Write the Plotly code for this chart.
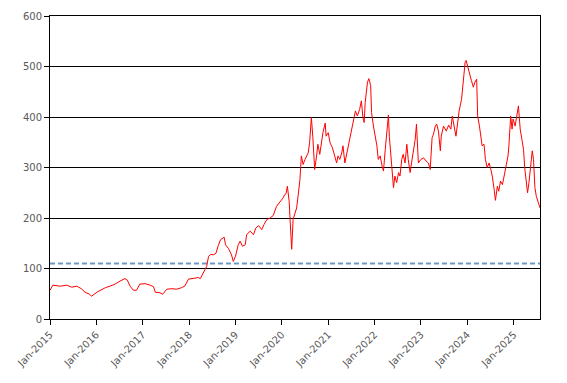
import plotly.graph_objects as go

dates = [
"2015-01-02","2015-01-23","2015-03-23","2015-05-12","2015-06-21","2015-07-31","2015-09-05","2015-10-04","2015-11-09","2015-11-24",
"2016-01-05","2016-01-30","2016-03-12","2016-04-17","2016-05-27","2016-07-05","2016-08-14","2016-09-01","2016-09-23","2016-10-19","2016-11-13","2016-12-08",
"2017-01-19","2017-02-28","2017-03-26","2017-04-10","2017-05-16","2017-06-06","2017-07-09","2017-08-18","2017-09-23","2017-11-02","2017-11-27","2017-12-27",
"2018-01-23","2018-03-15","2018-03-30","2018-04-24","2018-05-19","2018-06-03","2018-06-21","2018-07-09","2018-07-31","2018-08-18","2018-09-05","2018-10-04","2018-10-15","2018-11-06","2018-12-01","2018-12-15",
"2019-01-01","2019-01-23","2019-02-07","2019-02-25","2019-03-19","2019-03-30","2019-04-27","2019-05-23","2019-06-10","2019-07-02","2019-07-27","2019-08-14","2019-09-05","2019-10-01","2019-10-26","2019-11-20","2019-12-15",
"2020-01-12","2020-01-23","2020-02-03","2020-02-14","2020-02-28","2020-03-12","2020-03-19","2020-03-30","2020-04-13","2020-04-27","2020-05-08","2020-05-23","2020-06-03","2020-06-17","2020-07-02","2020-07-27","2020-08-07","2020-08-21","2020-09-01","2020-09-16","2020-10-01","2020-10-11","2020-10-26","2020-11-06","2020-11-20","2020-12-08","2020-12-15",
"2021-01-01","2021-01-15","2021-02-03","2021-02-18","2021-03-08","2021-03-19","2021-04-02","2021-04-17","2021-04-27","2021-05-12","2021-05-23","2021-06-06","2021-06-28","2021-07-16","2021-08-03","2021-08-18","2021-09-05","2021-09-19","2021-10-01","2021-10-11","2021-10-19","2021-11-06","2021-11-17","2021-12-01","2021-12-08","2021-12-23",
"2022-01-05","2022-01-19","2022-01-30","2022-02-14","2022-03-01","2022-03-12","2022-03-26","2022-04-10","2022-04-20","2022-04-27","2022-05-08","2022-05-23","2022-05-30","2022-06-10","2022-06-24","2022-07-09","2022-07-20","2022-08-03","2022-08-14","2022-08-29","2022-09-12","2022-09-23","2022-10-08","2022-10-19","2022-11-02","2022-11-17","2022-11-27","2022-12-12",
"2023-01-01","2023-01-23","2023-02-10","2023-03-01","2023-03-15","2023-03-30","2023-04-10","2023-04-24","2023-05-05","2023-05-19","2023-06-03","2023-06-10","2023-06-28","2023-07-20","2023-08-07","2023-08-25","2023-09-05","2023-09-19","2023-10-04","2023-10-19","2023-10-29","2023-11-17","2023-12-01","2023-12-15","2023-12-23",
"2024-01-08","2024-01-23","2024-02-03","2024-02-18","2024-03-01","2024-03-15","2024-03-23","2024-04-06","2024-04-17","2024-04-27","2024-05-12","2024-05-23","2024-06-06","2024-06-21","2024-07-05","2024-07-16","2024-07-31","2024-08-10","2024-08-25","2024-09-05","2024-09-19","2024-10-04","2024-10-22","2024-11-06","2024-11-17","2024-11-24","2024-12-08","2024-12-19","2024-12-27",
"2025-01-12","2025-01-23","2025-02-07","2025-02-21","2025-03-05","2025-03-19","2025-03-30","2025-04-13","2025-04-20","2025-05-01","2025-05-12","2025-05-27","2025-06-06","2025-06-17","2025-06-28","2025-07-13","2025-07-27",
]

values = [
57,67,65,67,63,65,60,53,49,45,
53,57,62,65,69,75,80,77,65,57,57,69,
70,67,64,53,52,49,59,60,59,62,65,79,
80,82,80,92,104,124,128,127,130,145,157,162,147,140,127,114,
124,147,154,144,147,167,174,167,180,185,177,187,197,200,205,223,230,
240,246,248,263,233,170,138,197,210,220,243,276,323,306,316,329,349,399,362,296,323,346,326,349,369,388,362,
369,349,339,323,309,323,316,329,343,309,323,343,372,389,412,402,415,432,399,389,429,469,476,462,409,382,
362,343,316,323,303,293,336,382,404,362,323,290,260,283,270,290,283,316,326,309,346,316,290,309,329,356,386,309,
316,319,313,309,296,359,366,382,386,372,333,362,382,372,384,376,402,379,362,392,412,435,469,508,512,
495,482,472,459,469,475,402,382,356,343,346,316,300,309,296,283,256,235,263,253,273,266,289,306,323,343,402,376,396,
382,402,422,376,356,336,296,256,250,270,303,333,316,260,243,230,220,
]

reference_level = 110
x_start = "2015-01-01"
x_end = "2025-07-27"
tick_dates = ["%d-01-01" % y for y in range(2015, 2026)]
tick_labels = ["Jan-%d" % y for y in range(2015, 2026)]
y_ticks = [0, 100, 200, 300, 400, 500, 600]

fig = go.Figure()
fig.add_trace(go.Scatter(
    x=[x_start, x_end], y=[reference_level, reference_level], mode="lines",
    line=dict(color="#6A9BC8", width=2, dash="5px,3px"), hoverinfo="skip"))
fig.add_trace(go.Scatter(
    x=dates, y=values, mode="lines",
    line=dict(color="#FF0000", width=1)))

fig.update_layout(
    width=567, height=383,
    margin=dict(l=42, r=35, t=8, b=72, autoexpand=False),
    paper_bgcolor="white", plot_bgcolor="white",
    showlegend=False,
    font=dict(family="DejaVu Sans", size=10, color="#595959"),
)
fig.update_xaxes(
    range=[x_start, x_end], tickvals=tick_dates, ticktext=tick_labels,
    tickangle=-45, ticks="outside", ticklen=5, tickcolor="black",
    showline=True, linecolor="black", linewidth=1, mirror=True,
    showgrid=False, zeroline=False, automargin=False,
)
fig.update_yaxes(
    range=[0, 600], tickvals=y_ticks, ticks="outside", ticklen=5, tickcolor="black",
    showline=True, linecolor="black", linewidth=1, mirror=True,
    showgrid=True, gridcolor="black", gridwidth=1, zeroline=False, automargin=False,
)

fig.write_html("out.html")
